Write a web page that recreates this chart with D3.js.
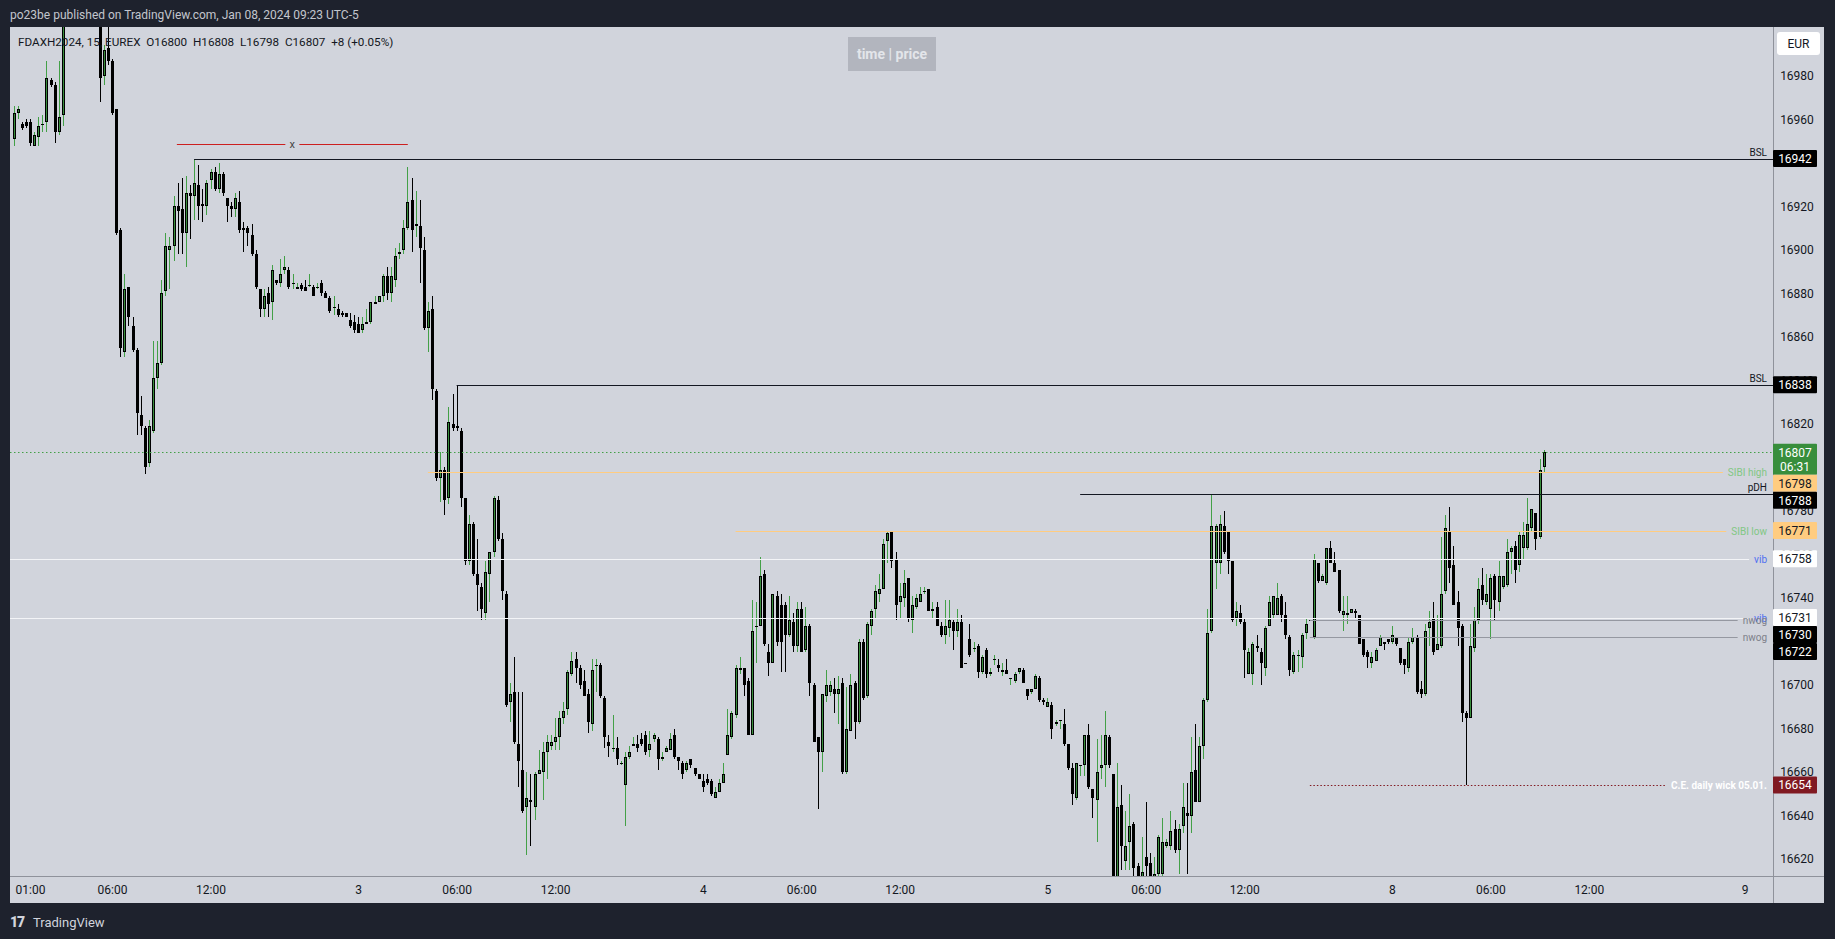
<!DOCTYPE html>
<html><head><meta charset="utf-8">
<script src="https://cdn.jsdelivr.net/npm/d3@7"></script>
<style>
html,body{margin:0;padding:0;background:#1e222d;overflow:hidden;}
svg{display:block;}
text{font-family:Roboto,"Open Sans",sans-serif;}
</style></head><body>
<svg id="chart" width="1835" height="939"></svg>
<script>
// ---------------- DATA (15-min candles, Jan 2 00:00 .. Jan 8 09:15) ----------------
const opens = [
16951,16963,16958,16959,16959,16948,16952,16958,16959,16978,
16976,16954,16962,17008,17015,17020,17018,17014,17016,17012,
17010,17012,16980,16993,16987,16965,16909,16853,16883,16865,
16854,16824,16818,16802,16817,16841,16848,16881,16900,16902,
16920,16919,16908,16926,16925,16930,16921,16920,16932,16936,
16928,16935,16924,16920,16919,16922,16910,16910,16907,16898,
16882,16873,16880,16876,16886,16885,16891,16891,16885,16882,
16884,16883,16884,16883,16883,16885,16880,16878,16874,16873,
16871,16871,16868,16867,16866,16863,16866,16867,16875,16876,
16879,16888,16880,16886,16898,16900,16910,16923,16911,16911,
16900,16864,16873,16835,16795,16799,16786,16820,16819,16817,
16786,16757,16774,16751,16745,16733,16751,16761,16785,16767,
16742,16692,16697,16673,16661,16644,16647,16644,16659,16660,
16669,16672,16674,16676,16685,16689,16705,16712,16708,16702,
16696,16682,16709,16709,16694,16674,16671,16671,16664,16654,
16667,16672,16673,16675,16677,16670,16675,16675,16666,16669,
16670,16677,16667,16664,16661,16666,16662,16659,16656,16657,
16656,16648,16651,16655,16668,16676,16686,16707,16708,16702,
16677,16727,16727,16751,16715,16710,16741,16737,16737,16723,
16729,16718,16735,16716,16727,16700,16676,16669,16695,16697,
16698,16696,16701,16660,16679,16701,16683,16720,16695,16727,
16735,16742,16744,16766,16771,16758,16738,16740,16749,16730,
16736,16738,16743,16744,16734,16736,16727,16723,16726,16729,
16725,16729,16710,16721,16717,16718,16706,16716,16705,16712,
16709,16706,16707,16703,16702,16706,16707,16698,16697,16698,
16703,16693,16690,16691,16682,16684,16682,16673,16662,16648,
16663,16663,16677,16652,16647,16662,16663,16676,16659,16606,
16645,16619,16628,16636,16617,16610,16621,16618,16610,16613,
16613,16626,16626,16634,16624,16635,16641,16640,16661,16646,
16672,16693,16725,16756,16756,16773,16771,16757,16731,16733,
16729,16705,16705,16718,16715,16708,16727,16732,16732,16741,
16732,16722,16706,16714,16713,16724,16730,16722,16756,16748,
16747,16763,16756,16753,16732,16732,16733,16734,16732,16721,
16715,16710,16711,16718,16720,16721,16720,16722,16717,16712,
16708,16720,16722,16698,16696,16726,16731,16716,16718,16743,
16771,16755,16738,16727,16687,16685,16717,16730,16746,16738,
16735,16750,16738,16745,16746,16761,16764,16755,16763,16763,
16772,16779,16768,16800];
const highs = [
16966,16966,16959,16960,16960,16954,16961,16962,16987,16979,
16977,16987,17012,17020,17025,17028,17024,17022,17024,17020,
17018,17015,16994,17006,16988,16965,16910,16889,16883,16869,
16855,16833,16819,16822,16858,16858,16886,16908,16906,16925,
16931,16933,16934,16930,16942,16939,16928,16932,16937,16938,
16940,16936,16924,16922,16926,16927,16913,16911,16912,16900,
16882,16882,16883,16893,16886,16896,16897,16892,16889,16885,
16885,16886,16889,16884,16885,16886,16881,16879,16879,16875,
16872,16871,16871,16870,16869,16869,16873,16876,16879,16879,
16889,16892,16892,16901,16903,16914,16938,16933,16927,16923,
16906,16876,16879,16836,16807,16800,16828,16834,16838,16818,
16786,16778,16775,16767,16747,16757,16761,16787,16787,16770,
16743,16701,16713,16697,16697,16660,16659,16660,16670,16674,
16677,16677,16685,16688,16692,16707,16715,16715,16709,16707,
16698,16712,16712,16710,16695,16677,16686,16676,16665,16669,
16672,16676,16677,16678,16679,16679,16678,16676,16669,16672,
16678,16680,16667,16665,16665,16666,16662,16659,16659,16659,
16657,16653,16657,16664,16689,16688,16709,16713,16708,16703,
16739,16738,16759,16753,16719,16742,16743,16742,16738,16741,
16733,16738,16738,16736,16728,16701,16676,16696,16707,16702,
16703,16704,16703,16699,16705,16702,16721,16721,16729,16735,
16746,16751,16767,16771,16771,16761,16747,16753,16749,16741,
16742,16745,16745,16744,16738,16738,16729,16739,16739,16730,
16735,16732,16710,16728,16720,16719,16714,16717,16708,16714,
16712,16710,16712,16703,16706,16708,16708,16698,16698,16705,
16704,16694,16694,16692,16684,16684,16689,16673,16664,16664,
16663,16677,16682,16652,16675,16677,16688,16677,16659,16664,
16654,16642,16650,16637,16618,16630,16646,16623,16621,16631,
16639,16629,16642,16638,16636,16655,16655,16676,16682,16676,
16694,16735,16788,16774,16778,16780,16771,16757,16738,16737,
16731,16717,16720,16723,16717,16727,16741,16741,16747,16742,
16738,16723,16715,16716,16724,16731,16730,16760,16756,16751,
16763,16766,16761,16753,16741,16741,16735,16735,16732,16721,
16716,16715,16717,16723,16720,16721,16727,16722,16717,16712,
16722,16726,16723,16702,16728,16734,16738,16732,16768,16778,
16782,16764,16743,16728,16688,16728,16736,16749,16754,16751,
16751,16751,16757,16750,16767,16764,16766,16771,16775,16786,
16781,16779,16804,16808];
const lows = [
16948,16960,16955,16956,16948,16948,16948,16954,16954,16975,
16949,16953,16957,17005,17010,17012,17010,17008,17010,17006,
17005,16968,16976,16985,16962,16907,16851,16851,16865,16853,
16815,16815,16797,16800,16816,16836,16847,16879,16882,16895,
16898,16898,16892,16905,16914,16914,16913,16916,16928,16927,
16926,16925,16913,16915,16915,16908,16899,16902,16897,16882,
16869,16869,16869,16868,16884,16883,16889,16882,16882,16882,
16881,16881,16883,16879,16882,16879,16878,16871,16870,16869,
16869,16869,16864,16862,16862,16862,16866,16866,16875,16876,
16876,16877,16876,16883,16896,16898,16909,16899,16906,16885,
16863,16853,16831,16794,16784,16778,16783,16817,16817,16782,
16755,16755,16750,16734,16730,16730,16738,16759,16766,16739,
16690,16683,16673,16653,16641,16622,16626,16638,16659,16647,
16657,16670,16670,16670,16682,16686,16704,16701,16698,16695,
16678,16679,16697,16694,16671,16667,16669,16663,16663,16635,
16666,16672,16669,16672,16668,16667,16674,16661,16665,16669,
16670,16666,16661,16657,16660,16662,16658,16657,16651,16654,
16649,16648,16651,16655,16668,16675,16685,16705,16695,16677,
16677,16710,16727,16718,16704,16710,16718,16706,16706,16722,
16715,16715,16715,16715,16695,16674,16643,16660,16692,16695,
16687,16682,16659,16659,16679,16675,16682,16693,16694,16723,
16731,16738,16744,16756,16754,16730,16731,16736,16729,16724,
16735,16738,16742,16734,16731,16727,16722,16719,16722,16716,
16722,16708,16710,16713,16715,16703,16705,16703,16704,16709,
16706,16704,16705,16700,16701,16705,16701,16693,16696,16698,
16692,16691,16690,16675,16681,16680,16672,16661,16645,16647,
16658,16658,16652,16639,16628,16657,16653,16662,16604,16604,
16615,16615,16615,16610,16605,16605,16605,16605,16605,16610,
16612,16625,16624,16623,16613,16632,16613,16632,16646,16646,
16666,16692,16724,16744,16751,16760,16751,16729,16727,16728,
16703,16705,16700,16715,16700,16704,16727,16731,16732,16729,
16721,16704,16705,16706,16708,16721,16730,16721,16747,16748,
16746,16756,16752,16733,16725,16728,16733,16731,16719,16713,
16708,16708,16711,16718,16716,16719,16719,16718,16709,16705,
16706,16719,16696,16694,16695,16718,16714,16716,16717,16742,
16747,16737,16718,16683,16654,16685,16715,16728,16737,16737,
16721,16730,16734,16744,16745,16751,16747,16752,16758,16762,
16771,16762,16767,16798];
const closes = [
16963,16965,16956,16957,16949,16953,16957,16958,16979,16976,
16954,16961,17008,17015,17020,17018,17014,17016,17012,17010,
17012,16979,16992,16987,16963,16908,16855,16882,16869,16854,
16825,16819,16800,16819,16841,16848,16880,16902,16902,16920,
16918,16908,16926,16925,16931,16920,16920,16931,16936,16928,
16935,16926,16920,16919,16924,16909,16909,16908,16898,16883,
16873,16879,16875,16891,16885,16889,16892,16883,16885,16883,
16882,16881,16884,16879,16883,16880,16878,16872,16874,16870,
16870,16869,16865,16863,16862,16866,16867,16876,16876,16879,
16888,16880,16888,16897,16899,16910,16922,16909,16912,16901,
16864,16872,16836,16795,16799,16785,16821,16818,16818,16786,
16757,16774,16751,16746,16735,16752,16761,16786,16767,16743,
16691,16696,16674,16665,16642,16648,16646,16659,16661,16669,
16674,16674,16676,16685,16688,16706,16711,16708,16700,16695,
16683,16707,16709,16695,16676,16672,16671,16666,16664,16667,
16669,16673,16671,16673,16669,16673,16677,16666,16667,16671,
16675,16667,16665,16659,16664,16663,16659,16657,16653,16655,
16650,16651,16655,16659,16677,16687,16708,16708,16700,16677,
16725,16727,16750,16719,16710,16742,16720,16720,16723,16730,
16718,16735,16715,16727,16701,16674,16669,16696,16700,16700,
16696,16698,16660,16680,16700,16683,16720,16694,16728,16734,
16743,16744,16765,16770,16757,16737,16741,16747,16731,16737,
16740,16742,16743,16734,16735,16727,16723,16727,16730,16725,
16729,16708,16710,16714,16717,16706,16713,16705,16706,16712,
16708,16707,16705,16703,16705,16708,16701,16695,16698,16704,
16693,16692,16692,16680,16683,16684,16673,16662,16650,16664,
16663,16677,16653,16648,16660,16663,16677,16663,16606,16644,
16626,16626,16635,16616,16611,16614,16617,16610,16613,16630,
16628,16628,16633,16624,16634,16644,16640,16660,16646,16672,
16693,16724,16773,16773,16774,16761,16757,16730,16734,16729,
16716,16715,16719,16717,16710,16726,16738,16741,16740,16732,
16723,16707,16714,16714,16723,16728,16730,16758,16748,16750,
16763,16756,16752,16734,16734,16733,16735,16733,16719,16714,
16713,16713,16716,16722,16719,16720,16723,16719,16710,16709,
16720,16722,16697,16696,16725,16729,16715,16719,16742,16772,
16754,16737,16726,16687,16685,16718,16730,16744,16739,16742,
16749,16739,16750,16750,16761,16763,16753,16769,16769,16774,
16781,16767,16799,16807];

// time axis: candle index of each label, and its text
const timeTickIndex  = [4,24,48,84,108,132,168,192,216,252,276,300,336,360,384,422];
const timeTickLabels = ["01:00","06:00","12:00","3","06:00","12:00","4","06:00","12:00","5","06:00","12:00","8","06:00","12:00","9"];
// price axis ticks
const priceTicks = [16620,16640,16660,16680,16700,16720,16740,16760,16780,16800,16820,16840,16860,16880,16900,16920,16940,16960,16980];

// horizontal drawings
const levelLabels   = ["BSL","BSL","SIBI high","pDH","SIBI low","vib","vib","nwog","nwog","C.E. daily wick 05.01."];
const levelPrices   = [16942,16838,16798,16788,16771,16758,16731,16730,16722,16654];
const levelStartIdx = [44,108,101,260,176,null,null,316,316,316];
const levelKinds    = ["bsl","bsl","sibi","pdh","sibi","vib","vib","nwog","nwog","ce"];

// the short red range line marked "x"
const rangeLabel = "x";
const rangePrice = 16948.5;
const rangeStartIdx = 39.8;
const rangeEndIdx = 96.1;

// price-axis tags
const tagPrices = [16942,16838,16798,16788,16771,16758,16731,16730,16722,16654];
const tagKinds  = ["black","black","orange","black","orange","white","white","black","black","red"];
const countdown = "06:31";

const headerText = "po23be published on TradingView.com, Jan 08, 2024 09:23 UTC-5";
const symbolText = "FDAXH2024, 15, EUREX";
const ohlcText = "O16800  H16808  L16798  C16807  +8 (+0.05%)";

// ---------------- LAYOUT ----------------
const W = 1835, H = 939;
const plot = {left:10, top:27, right:1773, bottom:876};
const axisRight = 1824, axisBottom = 903;
const BG = "#d1d4dc", DARK = "#1e222d", TXT = "#131722";
const UP_FILL = "#388e3c", UP_WICK = "#43a047";

const svg = d3.select("#chart");
svg.append("rect").attr("width",W).attr("height",H).attr("fill",DARK);
svg.append("rect").attr("x",plot.left).attr("y",plot.top)
  .attr("width",axisRight-plot.left).attr("height",axisBottom-plot.top).attr("fill",BG);

const x = d3.scaleLinear().domain([-0.88, 428.9]).range([plot.left, plot.right]);
const y = d3.scaleLinear().domain([16612.2, 17002.5]).range([plot.bottom, plot.top]);
const crisp = v => Math.round(v) + 0.5;

svg.append("defs").append("clipPath").attr("id","plotClip").append("rect")
  .attr("x",plot.left).attr("y",plot.top).attr("width",plot.right-plot.left).attr("height",plot.bottom-plot.top);

// ---------------- CANDLES ----------------
const candles = d3.range(opens.length).map(i => ({i, o:opens[i], h:highs[i], l:lows[i], c:closes[i], up: closes[i] >= opens[i]}));
const cg = svg.append("g").attr("clip-path","url(#plotClip)");
const px = d => Math.round(x(d.i));
const bTop = d => Math.round(y(Math.max(d.o,d.c)));
const bH = d => Math.max(1, Math.round(y(Math.min(d.o,d.c))) - bTop(d));

cg.selectAll("rect.wick").data(candles).join("rect").attr("class","wick")
  .attr("x", d => px(d)).attr("width",1)
  .attr("y", d => Math.round(y(d.h))).attr("height", d => Math.max(1, Math.round(y(d.l)) - Math.round(y(d.h))))
  .attr("fill", d => d.up ? UP_WICK : "#000");
cg.selectAll("rect.body").data(candles).join("rect").attr("class","body")
  .attr("x", d => px(d)-1).attr("width",3)
  .attr("y", bTop).attr("height", bH).attr("fill","#000");
cg.selectAll("rect.core").data(candles.filter(d => d.up && bH(d) > 2)).join("rect").attr("class","core")
  .attr("x", d => px(d)).attr("width",1)
  .attr("y", d => bTop(d)+1).attr("height", d => bH(d)-2).attr("fill",UP_FILL);

// ---------------- DRAWINGS ----------------
const dg = svg.append("g").attr("clip-path","url(#plotClip)");
const labelRight = plot.right - 6;
const styles = {
  bsl:  {stroke:"#131722", dash:null, text:"#131722", pos:"above", weight:"normal"},
  pdh:  {stroke:"#131722", dash:null, text:"#131722", pos:"above", weight:"normal"},
  sibi: {stroke:"#ffcc80", dash:null, text:"#81c784", pos:"middle", weight:"normal"},
  vib:  {stroke:"#f3f4f7", dash:null, text:"#4f6ff0", pos:"middle", weight:"normal"},
  nwog: {stroke:"#9598a1", dash:null, text:"#7d808a", pos:"middle", weight:"normal"},
  ce:   {stroke:"#801922", dash:"1.5,2", text:"#ffffff", pos:"middle", weight:"bold"}
};
// current price dotted line
const lastClose = closes[closes.length-1];
dg.append("line").attr("x1",plot.left).attr("x2",plot.right)
  .attr("y1",crisp(y(lastClose))).attr("y2",crisp(y(lastClose)))
  .attr("stroke","#43a047").attr("stroke-dasharray","1.5,2.5");

levelPrices.forEach((p,k) => {
  const st = styles[levelKinds[k]];
  const yy = crisp(y(p));
  const x1 = levelStartIdx[k] === null ? plot.left : x(levelStartIdx[k]);
  const t = dg.append("text").attr("x",labelRight).attr("text-anchor","end")
    .attr("font-size",10).attr("font-weight",st.weight).attr("fill",st.text).text(levelLabels[k]);
  let x2 = plot.right;
  if (st.pos === "above") { t.attr("y", yy - 4); }
  else { t.attr("y", yy).attr("dy","0.35em"); x2 = labelRight - t.node().getComputedTextLength() - 5; }
  const ln = dg.insert("line","text").attr("x1",x1).attr("x2",x2).attr("y1",yy).attr("y2",yy)
    .attr("stroke",st.stroke).attr("stroke-width",1);
  if (st.dash) ln.attr("stroke-dasharray",st.dash);
});

// red range line with "x"
{
  const yy = crisp(y(rangePrice));
  const xm = (x(rangeStartIdx)+x(rangeEndIdx))/2;
  dg.append("line").attr("x1",x(rangeStartIdx)).attr("x2",xm-7).attr("y1",yy).attr("y2",yy).attr("stroke","#cc1f1f");
  dg.append("line").attr("x1",xm+7).attr("x2",x(rangeEndIdx)).attr("y1",yy).attr("y2",yy).attr("stroke","#cc1f1f");
  dg.append("text").attr("x",xm).attr("y",yy).attr("dy","0.3em").attr("text-anchor","middle")
    .attr("font-size",11).attr("fill","#444").text(rangeLabel);
}

// ---------------- AXES ----------------
svg.append("line").attr("x1",crisp(plot.right)).attr("x2",crisp(plot.right)).attr("y1",plot.top).attr("y2",axisBottom)
  .attr("stroke","#8f929b");
svg.append("line").attr("x1",plot.left).attr("x2",axisRight).attr("y1",crisp(plot.bottom)).attr("y2",crisp(plot.bottom))
  .attr("stroke","#8f929b");

// price tags layout (stacked so they do not overlap)
const tags = tagPrices.map((p,k)=>({p, kind:tagKinds[k], lines:[String(p)]}));
tags.push({p:lastClose, kind:"green", lines:[String(lastClose), countdown]});
tags.sort((a,b)=>b.p-a.p);
let prevBottom = -Infinity;
tags.forEach(t => {
  t.h = t.lines.length === 2 ? 31 : 17;
  t.top = Math.max(y(t.p) - 8.5, prevBottom);
  prevBottom = t.top + t.h;
});
// hide tick labels that would sit almost completely under a tag
const visibleTicks = priceTicks.filter(v => !tags.some(t => y(v) > t.top + 6 && y(v) < t.top + t.h - 3));

const yAxis = svg.append("g").attr("transform",`translate(${plot.right},0)`)
  .call(d3.axisRight(y).tickValues(visibleTicks).tickSize(0).tickFormat(d3.format("d")));
yAxis.select(".domain").remove();
yAxis.selectAll("text").attr("x",24).attr("text-anchor","middle").attr("fill",TXT)
  .style("font-size","12px").style("font-family","Roboto, sans-serif");

const xAxis = svg.append("g").attr("transform",`translate(0,${plot.bottom})`)
  .call(d3.axisBottom(x).tickValues(timeTickIndex).tickSize(0).tickPadding(9).tickFormat((d,i)=>timeTickLabels[i]));
xAxis.select(".domain").remove();
xAxis.selectAll("text").attr("fill",TXT).style("font-size","12px").style("font-family","Roboto, sans-serif");

const tagColors = {black:["#000","#fff"], orange:["#ffcc80","#131722"], white:["#fff","#131722"], red:["#801922","#fff"], green:["#388e3c","#fff"]};
const tg = svg.append("g");
tags.forEach(t => {
  const [fill, tc] = tagColors[t.kind];
  tg.append("rect").attr("x",plot.right).attr("y",t.top).attr("width",44).attr("height",t.h).attr("rx",1).attr("fill",fill);
  t.lines.forEach((s,j)=>{
    tg.append("text").attr("x",plot.right+22).attr("y",t.top+8.5+j*14.5).attr("dy","0.36em")
      .attr("text-anchor","middle").attr("font-size",12).attr("fill",tc).text(s);
  });
});

// EUR box
svg.append("rect").attr("x",1777).attr("y",32).attr("width",43).attr("height",23).attr("rx",3).attr("fill","#fff");
svg.append("text").attr("x",1798.5).attr("y",43.5).attr("dy","0.36em").attr("text-anchor","middle")
  .attr("font-size",12).attr("fill",TXT).text("EUR");

// ---------------- TEXTS ----------------
svg.append("text").attr("x",10).attr("y",18.5).attr("font-size",12).attr("fill","#c3c6ce").text(headerText);
svg.append("text").attr("x",18).attr("y",46).attr("font-size",11.7).attr("fill",TXT)
  .attr("xml:space","preserve").style("white-space","pre").text(symbolText + "  " + ohlcText);

svg.append("rect").attr("x",848).attr("y",37).attr("width",88).attr("height",34).attr("fill","#b2b5be");
svg.append("text").attr("x",892).attr("y",54).attr("dy","0.35em").attr("text-anchor","middle")
  .attr("font-size",14).attr("font-weight","bold").attr("fill","#e3e5ea").text("time | price");

// TradingView logo
svg.append("text").attr("x",10).attr("y",927).attr("font-size",14).attr("font-weight","900")
  .attr("fill","#d1d4dc").style("letter-spacing","-1px").text("17");
svg.append("text").attr("x",33).attr("y",927).attr("font-size",13).attr("fill","#d1d4dc").text("TradingView");
</script>
</body></html>
